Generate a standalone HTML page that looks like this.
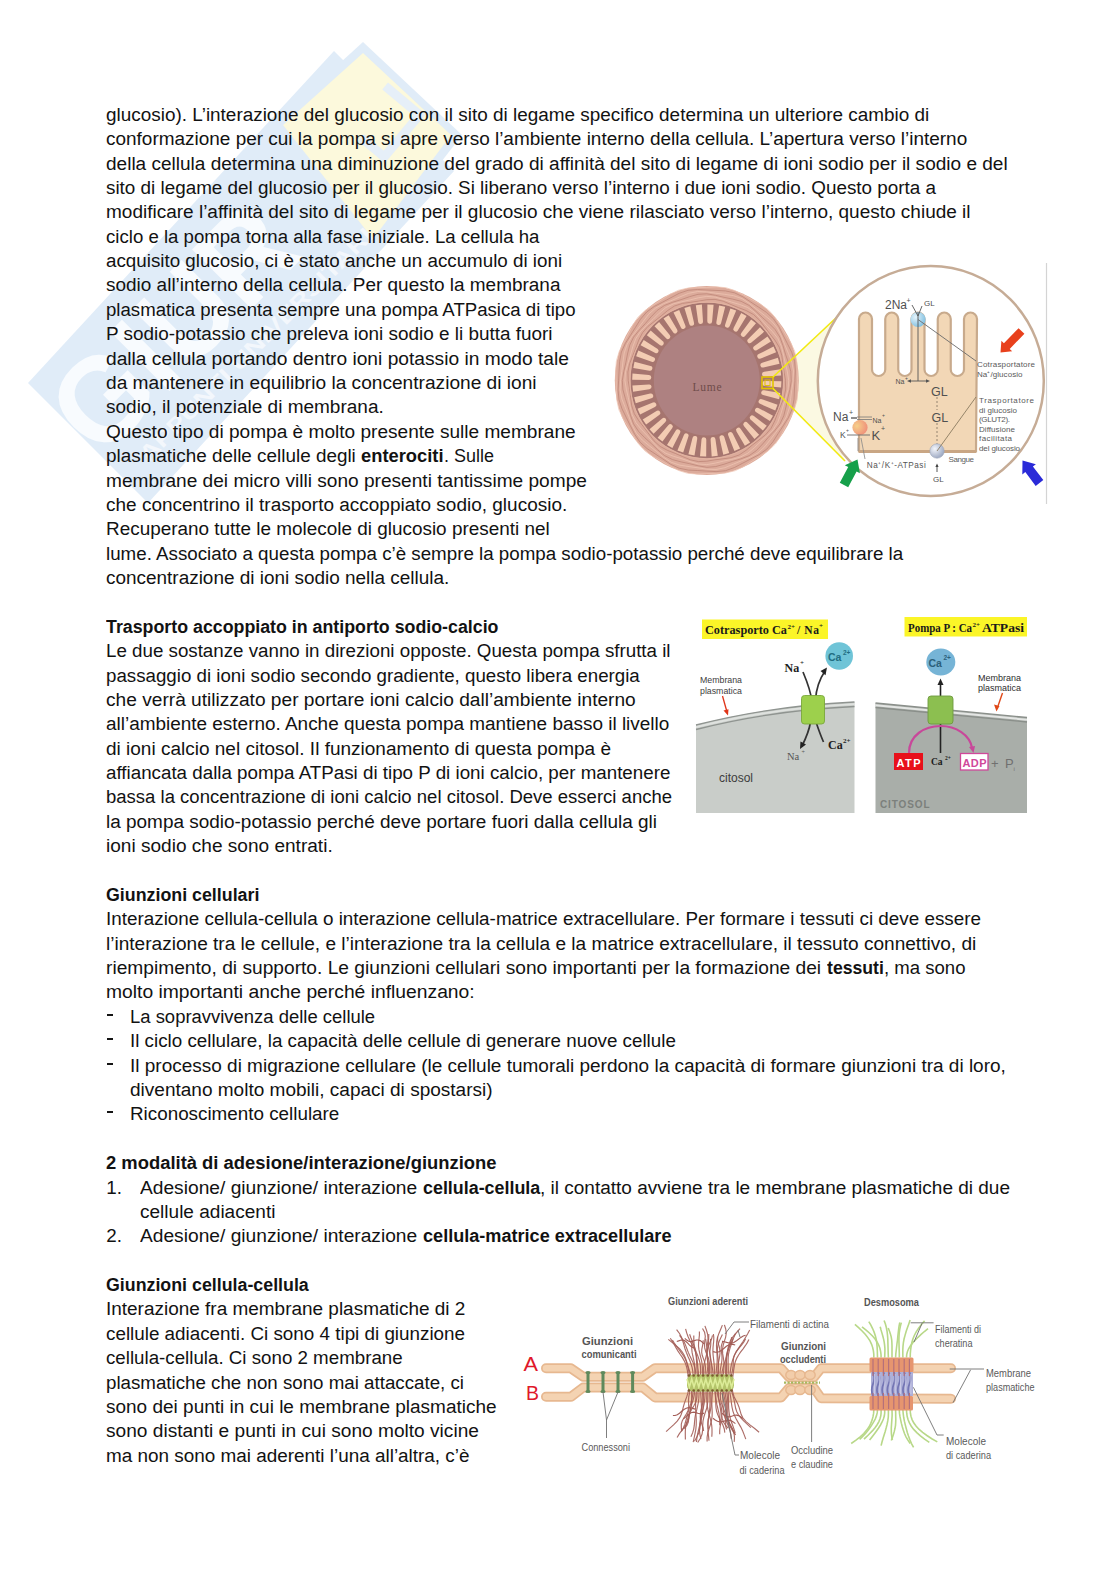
<!DOCTYPE html>
<html><head><meta charset="utf-8"><style>
html,body{margin:0;padding:0;background:#fff;}
body{width:1116px;height:1579px;position:relative;overflow:hidden;}
.t{position:absolute;white-space:pre;font-family:'Liberation Sans', sans-serif;font-size:18.8px;line-height:0;height:0;color:#121212;transform-origin:0 0;}
.dash{position:absolute;left:107px;width:6px;height:2px;background:#151515;}
svg{position:absolute;}
</style></head><body>
<svg style="left:0;top:0;position:absolute" width="580" height="580" viewBox="0 0 580 580">
<polygon points="28,383 334,51 454,171 148,503" fill="#e0ecf8"/>
<polygon points="363,42 462,135 373,250 272,125" fill="#e0ecf8"/>
<polygon points="363,53 451,135 373,239 283,125" fill="#fcf9dc"/>
<path d="M 360 95 L 405 95 L 405 150 L 375 150" fill="none" stroke="#e6eff8" stroke-width="9" transform="rotate(40 385 125)"/>
<g transform="translate(236 282) rotate(-45)" font-family="Liberation Sans, sans-serif">
<text x="-222" y="30" font-size="122" font-weight="bold" fill="#f8fbfe" textLength="290" lengthAdjust="spacingAndGlyphs">GIUR</text>
<text x="-190" y="66" font-size="22" font-weight="bold" fill="#f3f7fc" textLength="320" lengthAdjust="spacingAndGlyphs">APPUNTI UNIVERSITARI</text>
</g>
</svg>

<div class="t" style="left:106.30px;top:114.80px;transform:scaleX(1.0072)">glucosio). L’interazione del glucosio con il sito di legame specifico determina un ulteriore cambio di</div>
<div class="t" style="left:106.30px;top:139.18px;transform:scaleX(1.0097)">conformazione per cui la pompa si apre verso l’ambiente interno della cellula. L’apertura verso l’interno</div>
<div class="t" style="left:106.30px;top:163.56px;transform:scaleX(1.0128)">della cellula determina una diminuzione del grado di affinità del sito di legame di ioni sodio per il sodio e del</div>
<div class="t" style="left:106.30px;top:187.94px;transform:scaleX(1.0038)">sito di legame del glucosio per il glucosio. Si liberano verso l’interno i due ioni sodio. Questo porta a</div>
<div class="t" style="left:106.30px;top:212.32px;transform:scaleX(1.0116)">modificare l’affinità del sito di legame per il glucosio che viene rilasciato verso l’interno, questo chiude il</div>
<div class="t" style="left:106.30px;top:236.70px;transform:scaleX(0.9908)">ciclo e la pompa torna alla fase iniziale. La cellula ha</div>
<div class="t" style="left:106.30px;top:261.08px;transform:scaleX(0.9996)">acquisito glucosio, ci è stato anche un accumulo di ioni</div>
<div class="t" style="left:106.30px;top:285.46px;transform:scaleX(1.0100)">sodio all’interno della cellula. Per questo la membrana</div>
<div class="t" style="left:106.30px;top:309.84px;transform:scaleX(0.9913)">plasmatica presenta sempre una pompa ATPasica di tipo</div>
<div class="t" style="left:106.30px;top:334.22px;transform:scaleX(1.0072)">P sodio-potassio che preleva ioni sodio e li butta fuori</div>
<div class="t" style="left:106.30px;top:358.60px;transform:scaleX(1.0217)">dalla cellula portando dentro ioni potassio in modo tale</div>
<div class="t" style="left:106.30px;top:382.98px;transform:scaleX(1.0183)">da mantenere in equilibrio la concentrazione di ioni</div>
<div class="t" style="left:106.30px;top:407.36px;transform:scaleX(1.0115)">sodio, il potenziale di membrana.</div>
<div class="t" style="left:106.30px;top:431.74px;transform:scaleX(1.0155)">Questo tipo di pompa è molto presente sulle membrane</div>
<div class="t" style="left:106.30px;top:456.12px;transform:scaleX(1.0052)">plasmatiche delle cellule degli </div>
<div class="t" style="left:361.33px;top:456.12px;font-weight:bold;transform:scaleX(0.9756)">enterociti</div>
<div class="t" style="left:443.82px;top:456.12px;transform:scaleX(0.9563)">. Sulle</div>
<div class="t" style="left:106.30px;top:480.50px;transform:scaleX(1.0170)">membrane dei micro villi sono presenti tantissime pompe</div>
<div class="t" style="left:106.30px;top:504.88px;transform:scaleX(1.0110)">che concentrino il trasporto accoppiato sodio, glucosio.</div>
<div class="t" style="left:106.30px;top:529.26px;transform:scaleX(1.0070)">Recuperano tutte le molecole di glucosio presenti nel</div>
<div class="t" style="left:106.30px;top:553.64px;transform:scaleX(0.9981)">lume. Associato a questa pompa c’è sempre la pompa sodio-potassio perché deve equilibrare la</div>
<div class="t" style="left:106.30px;top:578.02px;transform:scaleX(1.0086)">concentrazione di ioni sodio nella cellula.</div>
<div class="t" style="left:106.30px;top:626.78px;font-weight:bold;transform:scaleX(0.9473)">Trasporto accoppiato in antiporto sodio-calcio</div>
<div class="t" style="left:106.30px;top:651.16px;transform:scaleX(0.9976)">Le due sostanze vanno in direzioni opposte. Questa pompa sfrutta il</div>
<div class="t" style="left:106.30px;top:675.54px;transform:scaleX(0.9965)">passaggio di ioni sodio secondo gradiente, questo libera energia</div>
<div class="t" style="left:106.30px;top:699.92px;transform:scaleX(1.0190)">che verrà utilizzato per portare ioni calcio dall’ambiente interno</div>
<div class="t" style="left:106.30px;top:724.30px;transform:scaleX(1.0084)">all’ambiente esterno. Anche questa pompa mantiene basso il livello</div>
<div class="t" style="left:106.30px;top:748.68px;transform:scaleX(1.0119)">di ioni calcio nel citosol. Il funzionamento di questa pompa è</div>
<div class="t" style="left:106.30px;top:773.06px;transform:scaleX(0.9992)">affiancata dalla pompa ATPasi di tipo P di ioni calcio, per mantenere</div>
<div class="t" style="left:106.30px;top:797.44px;transform:scaleX(0.9858)">bassa la concentrazione di ioni calcio nel citosol. Deve esserci anche</div>
<div class="t" style="left:106.30px;top:821.82px;transform:scaleX(1.0092)">la pompa sodio-potassio perché deve portare fuori dalla cellula gli</div>
<div class="t" style="left:106.30px;top:846.20px;transform:scaleX(1.0145)">ioni sodio che sono entrati.</div>
<div class="t" style="left:106.30px;top:894.96px;font-weight:bold;transform:scaleX(0.9481)">Giunzioni cellulari</div>
<div class="t" style="left:106.30px;top:919.34px;transform:scaleX(1.0039)">Interazione cellula-cellula o interazione cellula-matrice extracellulare. Per formare i tessuti ci deve essere</div>
<div class="t" style="left:106.30px;top:943.72px;transform:scaleX(1.0154)">l’interazione tra le cellule, e l’interazione tra la cellula e la matrice extracellulare, il tessuto connettivo, di</div>
<div class="t" style="left:106.30px;top:968.10px;transform:scaleX(1.0209)">riempimento, di supporto. Le giunzioni cellulari sono importanti per la formazione dei </div>
<div class="t" style="left:826.74px;top:968.10px;font-weight:bold;transform:scaleX(0.9396)">tessuti</div>
<div class="t" style="left:883.63px;top:968.10px;transform:scaleX(0.9879)">, ma sono</div>
<div class="t" style="left:106.30px;top:992.48px;transform:scaleX(1.0265)">molto importanti anche perché influenzano:</div>
<div class="dash" style="top:1014px"></div>
<div class="t" style="left:129.60px;top:1016.86px;transform:scaleX(0.9823)">La sopravvivenza delle cellule</div>
<div class="dash" style="top:1038px"></div>
<div class="t" style="left:129.60px;top:1041.24px;transform:scaleX(0.9997)">Il ciclo cellulare, la capacità delle cellule di generare nuove cellule</div>
<div class="dash" style="top:1063px"></div>
<div class="t" style="left:129.60px;top:1065.62px;transform:scaleX(1.0108)">Il processo di migrazione cellulare (le cellule tumorali perdono la capacità di formare giunzioni tra di loro,</div>
<div class="t" style="left:129.60px;top:1090.00px;transform:scaleX(1.0126)">diventano molto mobili, capaci di spostarsi)</div>
<div class="dash" style="top:1111px"></div>
<div class="t" style="left:129.60px;top:1114.38px;transform:scaleX(1.0025)">Riconoscimento cellulare</div>
<div class="t" style="left:106.30px;top:1163.14px;font-weight:bold;transform:scaleX(0.9797)">2 modalità di adesione/interazione/giunzione</div>
<div class="t" style="left:106.30px;top:1187.52px">1.</div>
<div class="t" style="left:140.00px;top:1187.52px;transform:scaleX(1.0211)">Adesione/ giunzione/ interazione </div>
<div class="t" style="left:422.53px;top:1187.52px;font-weight:bold;transform:scaleX(0.9517)">cellula-cellula</div>
<div class="t" style="left:539.77px;top:1187.52px;transform:scaleX(1.0117)">, il contatto avviene tra le membrane plasmatiche di due</div>
<div class="t" style="left:140.00px;top:1211.90px;transform:scaleX(1.0131)">cellule adiacenti</div>
<div class="t" style="left:106.30px;top:1236.28px">2.</div>
<div class="t" style="left:140.00px;top:1236.28px;transform:scaleX(1.0211)">Adesione/ giunzione/ interazione </div>
<div class="t" style="left:422.53px;top:1236.28px;font-weight:bold;transform:scaleX(0.9635)">cellula-matrice extracellulare</div>
<div class="t" style="left:106.30px;top:1285.04px;font-weight:bold;transform:scaleX(0.9476)">Giunzioni cellula-cellula</div>
<div class="t" style="left:106.30px;top:1309.42px;transform:scaleX(1.0095)">Interazione fra membrane plasmatiche di 2</div>
<div class="t" style="left:106.30px;top:1333.80px;transform:scaleX(1.0025)">cellule adiacenti. Ci sono 4 tipi di giunzione</div>
<div class="t" style="left:106.30px;top:1358.18px;transform:scaleX(0.9970)">cellula-cellula. Ci sono 2 membrane</div>
<div class="t" style="left:106.30px;top:1382.56px;transform:scaleX(0.9968)">plasmatiche che non sono mai attaccate, ci</div>
<div class="t" style="left:106.30px;top:1406.94px;transform:scaleX(1.0111)">sono dei punti in cui le membrane plasmatiche</div>
<div class="t" style="left:106.30px;top:1431.32px;transform:scaleX(1.0176)">sono distanti e punti in cui sono molto vicine</div>
<div class="t" style="left:106.30px;top:1455.70px;transform:scaleX(1.0064)">ma non sono mai aderenti l’una all’altra, c’è</div>
<svg style="left:600px;top:255px" width="460" height="255" viewBox="600 255 460 255" font-family="Liberation Sans, sans-serif">
<defs><radialGradient id="gb" cx="0.35" cy="0.35" r="0.7"><stop offset="0" stop-color="#e6f4fb"/><stop offset="1" stop-color="#7fbfe0"/></radialGradient><radialGradient id="gg" cx="0.35" cy="0.35" r="0.7"><stop offset="0" stop-color="#f4f6fb"/><stop offset="1" stop-color="#9aa6c0"/></radialGradient><radialGradient id="go" cx="0.3" cy="0.4" r="0.8"><stop offset="0" stop-color="#f6d08a"/><stop offset="1" stop-color="#ee8878"/></radialGradient></defs>
<polygon points="773,377 838,316 827,340 819,381 827,425 846,462 773,389" fill="#fbf9e2"/>
<ellipse cx="706.8" cy="380.5" rx="92" ry="94.5" fill="#dcab9b"/>
<polyline points="785.3,380.5 785.7,389.0 784.1,397.4 780.9,405.2 777.7,412.9 774.8,420.8 771.0,428.4 765.5,434.8 759.0,440.0 752.4,445.0 746.1,450.3 739.1,455.0 731.2,457.7 723.0,458.8 714.9,459.8 706.8,461.2 698.5,461.6 690.4,459.8 682.7,456.6 675.2,453.4 667.5,450.4 660.1,446.4 654.0,440.8 648.9,434.0 644.0,427.4 638.8,420.8 634.3,413.7 631.7,405.6 630.6,397.1 629.6,388.8 628.2,380.5 627.9,372.0 629.6,363.6 632.7,355.8 635.8,348.1 638.7,340.1 642.6,332.6 648.1,326.3 654.7,321.1 661.1,316.0 667.5,310.6 674.5,306.0 682.4,303.4 690.6,302.3 698.7,301.1 706.8,299.7 715.1,299.4 723.2,301.2 730.9,304.5 738.4,307.6 746.1,310.5 753.5,314.5 759.6,320.3 764.7,327.0 769.7,333.6 774.9,340.1 779.3,347.3 781.8,355.5 782.9,363.9 784.1,372.2 785.5,380.5" fill="none" stroke="#bb8273" stroke-width="0.9" opacity="0.8"/>
<polyline points="788.7,380.5 788.1,389.3 785.8,397.7 783.1,406.0 780.7,414.3 777.7,422.5 773.0,429.9 766.8,436.0 760.5,441.7 754.4,447.7 747.7,453.3 740.1,457.2 731.7,459.4 723.5,461.1 715.3,463.1 706.8,464.6 698.3,464.0 690.0,461.6 682.0,458.8 673.9,456.4 665.9,453.3 658.7,448.4 652.8,442.1 647.2,435.6 641.3,429.4 635.9,422.6 632.1,414.6 630.1,406.1 628.3,397.6 626.3,389.2 624.9,380.5 625.5,371.7 627.9,363.3 630.5,355.0 632.8,346.7 635.9,338.4 640.7,331.2 646.8,325.1 653.1,319.3 659.2,313.2 665.8,307.6 673.6,303.8 681.9,301.7 690.1,299.9 698.3,297.8 706.8,296.4 715.3,297.1 723.6,299.5 731.6,302.1 739.8,304.5 747.8,307.6 754.8,312.6 760.8,319.0 766.4,325.4 772.4,331.6 777.8,338.4 781.4,346.4 783.5,354.9 785.3,363.4 787.4,371.8 788.7,380.5" fill="none" stroke="#f0c6b4" stroke-width="0.9" opacity="0.8"/>
<polyline points="791.3,380.5 789.9,389.5 787.8,398.2 786.0,406.9 783.8,415.7 780.0,423.9 774.4,431.0 768.3,437.4 762.5,444.1 756.4,450.6 749.1,455.7 740.8,458.9 732.4,461.4 724.1,464.2 715.6,466.6 706.8,467.3 698.1,465.8 689.6,463.7 681.1,461.9 672.5,459.6 664.6,455.6 657.7,449.9 651.4,443.7 644.9,437.8 638.6,431.4 633.6,423.9 630.5,415.4 628.0,406.8 625.3,398.3 622.9,389.6 622.3,380.5 623.8,371.5 625.8,362.8 627.5,354.0 629.7,345.3 633.6,337.1 639.3,330.1 645.3,323.6 651.0,316.9 657.2,310.4 664.6,305.4 672.8,302.2 681.2,299.6 689.5,296.7 698.0,294.3 706.8,293.8 715.5,295.3 724.0,297.3 732.6,299.1 741.1,301.3 749.0,305.4 755.8,311.2 762.2,317.3 768.8,323.2 775.1,329.5 779.9,337.1 783.0,345.6 785.5,354.2 788.4,362.7 790.8,371.4 791.2,380.5" fill="none" stroke="#bb8273" stroke-width="0.9" opacity="0.8"/>
<polyline points="793.2,380.5 791.8,389.7 790.6,398.8 789.3,408.0 786.4,416.9 781.6,424.9 776.0,432.1 770.5,439.4 764.8,446.7 758.0,452.9 750.0,457.3 741.6,460.7 733.3,464.2 724.8,467.7 715.9,469.5 706.8,469.2 697.9,467.8 689.0,466.6 680.0,465.2 671.3,462.3 663.6,457.3 656.6,451.5 649.4,445.9 642.3,440.1 636.3,433.1 632.0,424.8 628.7,416.2 625.3,407.7 621.9,399.0 620.1,389.9 620.5,380.5 621.8,371.3 622.9,362.2 624.2,353.0 627.2,344.1 632.0,336.2 637.7,328.9 643.1,321.6 648.7,314.2 655.6,308.1 663.6,303.7 672.0,300.3 680.3,296.7 688.7,293.3 697.7,291.5 706.8,291.9 715.7,293.2 724.6,294.3 733.6,295.7 742.2,298.7 749.9,303.8 757.0,309.5 764.2,315.0 771.3,320.8 777.3,327.9 781.5,336.2 784.8,344.8 788.4,353.3 791.8,362.0 793.5,371.1 793.0,380.5" fill="none" stroke="#f0c6b4" stroke-width="0.9" opacity="0.8"/>
<polyline points="795.0,380.5 794.4,390.0 794.0,399.5 792.2,409.0 788.3,417.8 783.2,425.8 778.1,433.7 773.0,441.7 766.9,449.0 759.2,454.6 750.9,458.9 742.7,463.2 734.3,467.6 725.5,470.7 716.1,471.6 706.8,471.1 697.6,470.5 688.3,470.1 679.1,468.2 670.5,464.2 662.7,458.9 655.0,453.8 647.1,448.6 640.1,442.2 634.7,434.3 630.4,425.8 626.2,417.3 622.0,408.8 619.0,399.7 618.1,390.1 618.6,380.5 619.1,371.0 619.6,361.5 621.4,352.0 625.4,343.3 630.5,335.2 635.5,327.3 640.5,319.2 646.7,312.0 654.4,306.4 662.7,302.1 670.9,297.7 679.2,293.3 688.1,290.3 697.5,289.5 706.8,290.0 716.0,290.4 725.4,290.9 734.5,292.8 743.0,296.9 750.9,302.1 758.7,307.2 766.5,312.4 773.5,318.8 778.9,326.7 783.1,335.2 787.4,343.6 791.7,352.2 794.6,361.3 795.4,370.9 794.9,380.5" fill="none" stroke="#bb8273" stroke-width="0.9" opacity="0.8"/>
<polyline points="797.4,380.5 797.8,390.3 797.1,400.2 794.3,409.7 789.9,418.5 785.3,427.0 780.8,435.7 775.4,444.0 768.4,450.7 760.3,456.1 752.1,461.1 744.0,466.4 735.3,470.7 725.9,472.9 716.3,473.4 706.8,473.6 697.2,474.0 687.6,473.3 678.4,470.4 669.8,465.8 661.5,461.1 653.0,456.6 645.0,451.0 638.4,443.7 633.2,435.4 628.3,427.1 623.2,418.7 618.9,409.8 616.8,400.1 616.4,390.3 616.1,380.5 615.7,370.7 616.4,360.8 619.3,351.3 623.8,342.5 628.3,333.9 632.7,325.2 638.1,317.0 645.3,310.3 653.4,305.0 661.5,299.8 669.5,294.6 678.3,290.3 687.7,288.1 697.3,287.7 706.8,287.4 716.4,286.9 726.0,287.7 735.2,290.7 743.8,295.2 752.1,299.8 760.7,304.4 768.6,310.0 775.1,317.3 780.3,325.6 785.3,333.9 790.5,342.2 794.7,351.2 796.7,360.9 797.2,370.7 797.5,380.5" fill="none" stroke="#f0c6b4" stroke-width="0.9" opacity="0.8"/>
<ellipse cx="706.8" cy="380.5" rx="76.5" ry="78" fill="#a6756f"/>
<ellipse cx="706.8" cy="380.5" rx="53" ry="55" fill="#ae8181"/>
<path d="M 781.1 387.4 L 764.6 385.9 A 2.4 2.4 0 0 1 764.8 381.1 L 781.4 381.2 Z" fill="#f3ccb3"/>
<path d="M 779.1 399.2 L 763.1 395.0 A 2.4 2.4 0 0 1 764.1 390.3 L 780.3 393.1 Z" fill="#f3ccb3"/>
<path d="M 775.3 410.5 L 760.1 403.8 A 2.4 2.4 0 0 1 761.9 399.3 L 777.5 404.7 Z" fill="#f3ccb3"/>
<path d="M 769.9 421.0 L 755.9 412.0 A 2.4 2.4 0 0 1 758.3 407.9 L 773.0 415.7 Z" fill="#f3ccb3"/>
<path d="M 762.9 430.6 L 750.5 419.5 A 2.4 2.4 0 0 1 753.5 415.8 L 766.8 425.8 Z" fill="#f3ccb3"/>
<path d="M 754.5 438.9 L 743.9 426.0 A 2.4 2.4 0 0 1 747.5 422.8 L 759.1 434.8 Z" fill="#f3ccb3"/>
<path d="M 744.9 445.8 L 736.5 431.4 A 2.4 2.4 0 0 1 740.5 428.7 L 750.1 442.4 Z" fill="#f3ccb3"/>
<path d="M 734.4 451.1 L 728.3 435.5 A 2.4 2.4 0 0 1 732.7 433.5 L 740.1 448.6 Z" fill="#f3ccb3"/>
<path d="M 723.3 454.7 L 719.6 438.2 A 2.4 2.4 0 0 1 724.3 437.0 L 729.2 453.0 Z" fill="#f3ccb3"/>
<path d="M 711.7 456.4 L 710.6 439.6 A 2.4 2.4 0 0 1 715.4 439.1 L 717.8 455.7 Z" fill="#f3ccb3"/>
<path d="M 700.0 456.2 L 701.5 439.5 A 2.4 2.4 0 0 1 706.3 439.7 L 706.2 456.5 Z" fill="#f3ccb3"/>
<path d="M 688.4 454.2 L 692.5 437.9 A 2.4 2.4 0 0 1 697.2 438.9 L 694.5 455.5 Z" fill="#f3ccb3"/>
<path d="M 677.4 450.4 L 683.9 434.9 A 2.4 2.4 0 0 1 688.4 436.6 L 683.2 452.6 Z" fill="#f3ccb3"/>
<path d="M 667.0 444.9 L 675.8 430.6 A 2.4 2.4 0 0 1 680.0 433.0 L 672.4 447.9 Z" fill="#f3ccb3"/>
<path d="M 657.6 437.7 L 668.5 425.1 A 2.4 2.4 0 0 1 672.3 428.1 L 662.5 441.6 Z" fill="#f3ccb3"/>
<path d="M 649.5 429.2 L 662.2 418.4 A 2.4 2.4 0 0 1 665.4 422.0 L 653.6 433.8 Z" fill="#f3ccb3"/>
<path d="M 642.7 419.4 L 656.9 410.8 A 2.4 2.4 0 0 1 659.5 414.8 L 646.1 424.6 Z" fill="#f3ccb3"/>
<path d="M 637.5 408.7 L 652.9 402.5 A 2.4 2.4 0 0 1 654.9 406.9 L 640.1 414.4 Z" fill="#f3ccb3"/>
<path d="M 634.1 397.3 L 650.2 393.6 A 2.4 2.4 0 0 1 651.4 398.3 L 635.7 403.3 Z" fill="#f3ccb3"/>
<path d="M 632.4 385.5 L 648.9 384.4 A 2.4 2.4 0 0 1 649.4 389.2 L 633.1 391.7 Z" fill="#f3ccb3"/>
<path d="M 632.5 373.6 L 649.0 375.1 A 2.4 2.4 0 0 1 648.8 379.9 L 632.2 379.8 Z" fill="#f3ccb3"/>
<path d="M 634.5 361.8 L 650.5 366.0 A 2.4 2.4 0 0 1 649.5 370.7 L 633.3 367.9 Z" fill="#f3ccb3"/>
<path d="M 638.3 350.5 L 653.5 357.2 A 2.4 2.4 0 0 1 651.7 361.7 L 636.1 356.3 Z" fill="#f3ccb3"/>
<path d="M 643.7 340.0 L 657.7 349.0 A 2.4 2.4 0 0 1 655.3 353.1 L 640.6 345.3 Z" fill="#f3ccb3"/>
<path d="M 650.7 330.4 L 663.1 341.5 A 2.4 2.4 0 0 1 660.1 345.2 L 646.8 335.2 Z" fill="#f3ccb3"/>
<path d="M 659.1 322.1 L 669.7 335.0 A 2.4 2.4 0 0 1 666.1 338.2 L 654.5 326.2 Z" fill="#f3ccb3"/>
<path d="M 668.7 315.2 L 677.1 329.6 A 2.4 2.4 0 0 1 673.1 332.3 L 663.5 318.6 Z" fill="#f3ccb3"/>
<path d="M 679.2 309.9 L 685.3 325.5 A 2.4 2.4 0 0 1 680.9 327.5 L 673.5 312.4 Z" fill="#f3ccb3"/>
<path d="M 690.3 306.3 L 694.0 322.8 A 2.4 2.4 0 0 1 689.3 324.0 L 684.4 308.0 Z" fill="#f3ccb3"/>
<path d="M 701.9 304.6 L 703.0 321.4 A 2.4 2.4 0 0 1 698.2 321.9 L 695.8 305.3 Z" fill="#f3ccb3"/>
<path d="M 713.6 304.8 L 712.1 321.5 A 2.4 2.4 0 0 1 707.3 321.3 L 707.4 304.5 Z" fill="#f3ccb3"/>
<path d="M 725.2 306.8 L 721.1 323.1 A 2.4 2.4 0 0 1 716.4 322.1 L 719.1 305.5 Z" fill="#f3ccb3"/>
<path d="M 736.2 310.6 L 729.7 326.1 A 2.4 2.4 0 0 1 725.2 324.4 L 730.4 308.4 Z" fill="#f3ccb3"/>
<path d="M 746.6 316.1 L 737.8 330.4 A 2.4 2.4 0 0 1 733.6 328.0 L 741.2 313.1 Z" fill="#f3ccb3"/>
<path d="M 756.0 323.3 L 745.1 335.9 A 2.4 2.4 0 0 1 741.3 332.9 L 751.1 319.4 Z" fill="#f3ccb3"/>
<path d="M 764.1 331.8 L 751.4 342.6 A 2.4 2.4 0 0 1 748.2 339.0 L 760.0 327.2 Z" fill="#f3ccb3"/>
<path d="M 770.9 341.6 L 756.7 350.2 A 2.4 2.4 0 0 1 754.1 346.2 L 767.5 336.4 Z" fill="#f3ccb3"/>
<path d="M 776.1 352.3 L 760.7 358.5 A 2.4 2.4 0 0 1 758.7 354.1 L 773.5 346.6 Z" fill="#f3ccb3"/>
<path d="M 779.5 363.7 L 763.4 367.4 A 2.4 2.4 0 0 1 762.2 362.7 L 777.9 357.7 Z" fill="#f3ccb3"/>
<path d="M 781.2 375.5 L 764.7 376.6 A 2.4 2.4 0 0 1 764.2 371.8 L 780.5 369.3 Z" fill="#f3ccb3"/>
<ellipse cx="706.8" cy="380.5" rx="76.8" ry="78.3" fill="none" stroke="#e2b2a0" stroke-width="1.2"/>
<text x="692.5" y="391" font-family="Liberation Serif, serif" font-size="11.5" fill="#6e4c4a" textLength="29">Lume</text>
<rect x="762" y="377" width="11" height="11.5" fill="none" stroke="#e2c400" stroke-width="1.6"/>
<rect x="765" y="380" width="5" height="5.5" fill="none" stroke="#e2c400" stroke-width="1"/>
<line x1="773" y1="377" x2="838" y2="316" stroke="#f2ea10" stroke-width="1.6"/>
<line x1="773" y1="388.5" x2="845" y2="461" stroke="#f2ea10" stroke-width="1.6"/>
<ellipse cx="930.8" cy="381" rx="113" ry="115" fill="#fff" stroke="#c6ac96" stroke-width="2.5"/>
<line x1="1046.5" y1="263" x2="1046.5" y2="504" stroke="#d4d4d4" stroke-width="1.2"/>
<path d="M 859 451.5 L 859 319.0 A 6.5 6.5 0 0 1 872.0 319.0 L 872.0 369.375 A 6.625 6.625 0 0 0 885.25 369.375 L 885.25 319.0 A 6.5 6.5 0 0 1 898.25 319.0 L 898.25 369.375 A 6.625 6.625 0 0 0 911.5 369.375 L 911.5 319.0 A 6.5 6.5 0 0 1 924.5 319.0 L 924.5 369.375 A 6.625 6.625 0 0 0 937.75 369.375 L 937.75 319.0 A 6.5 6.5 0 0 1 950.75 319.0 L 950.75 369.375 A 6.625 6.625 0 0 0 964.0 369.375 L 964.0 319.0 A 6.5 6.5 0 0 1 977.0 319.0 L 976 451.5 Z" fill="#f2d7b6" stroke="#c8aa8c" stroke-width="2.2"/>
<line x1="859" y1="451.5" x2="976" y2="451.5" stroke="#c9a684" stroke-width="2.8"/>
<circle cx="918" cy="319.5" r="7.6" fill="url(#gb)"/>
<line x1="918" y1="312" x2="918" y2="381" stroke="#555" stroke-width="0.9"/>
<path d="M 912 305 L 918 316 L 922 306" fill="none" stroke="#555" stroke-width="0.9"/>
<line x1="918" y1="319.5" x2="976" y2="361" stroke="#6a6a6a" stroke-width="0.9"/>
<path d="M 918 381 L 910 381 M 918 381 L 927 381" stroke="#555" stroke-width="0.9"/>
<path d="M 907 381 l 4 -1.8 v 3.6 z M 930 381 l -4 -1.8 v 3.6 z" fill="#555"/>
<text x="885" y="309" font-size="12" fill="#505050">2Na</text><text x="906.5" y="303" font-size="7" fill="#505050">+</text>
<text x="924" y="306" font-size="8" fill="#505050">GL</text>
<text x="895.5" y="384" font-size="7" fill="#505050">Na</text><text x="905" y="380" font-size="5" fill="#505050">+</text>
<text x="931" y="395.5" font-size="12.5" fill="#505050">GL</text>
<text x="931.5" y="421.5" font-size="12.5" fill="#505050">GL</text>
<line x1="937" y1="397" x2="937" y2="410" stroke="#8a7a6a" stroke-width="0.9" stroke-dasharray="2,2"/>
<line x1="937" y1="423" x2="937" y2="445" stroke="#8a7a6a" stroke-width="0.9" stroke-dasharray="2,2"/>
<circle cx="937" cy="451" r="7.2" fill="url(#gg)" stroke="#a0a8b8" stroke-width="0.6"/>
<line x1="937" y1="451" x2="976" y2="397" stroke="#8a7a60" stroke-width="0.9"/>
<line x1="937" y1="465" x2="937" y2="472" stroke="#444" stroke-width="0.9"/><path d="M 937 463.5 l -1.6 3.5 h 3.2 z" fill="#444"/>
<text x="933" y="482" font-size="8" fill="#505050">GL</text>
<text x="948.5" y="462" font-size="8" fill="#606060" textLength="25.5">Sangue</text>
<circle cx="860" cy="427.5" r="7.6" fill="url(#go)"/>
<text x="833" y="421" font-size="12" fill="#505050">Na</text><text x="849" y="415" font-size="7" fill="#505050">+</text>
<line x1="851" y1="418" x2="857" y2="418" stroke="#444" stroke-width="1.2"/>
<line x1="857" y1="417" x2="872" y2="417" stroke="#777" stroke-width="0.8"/><line x1="857" y1="419.5" x2="872" y2="419.5" stroke="#777" stroke-width="0.8"/>
<text x="872.5" y="422.5" font-size="7" fill="#505050">Na</text><text x="882" y="417" font-size="5" fill="#505050">+</text>
<text x="840" y="437.5" font-size="8.5" fill="#505050">K</text><text x="846" y="432" font-size="5" fill="#505050">+</text>
<line x1="847" y1="435" x2="870" y2="435" stroke="#666" stroke-width="0.9"/>
<text x="871.5" y="439.5" font-size="13" fill="#505050">K</text><text x="881" y="431" font-size="7" fill="#505050">+</text>
<path d="M 858 438 L 858 451 M 861 438 L 865 459" stroke="#888" stroke-width="0.8" fill="none"/>
<text x="866.8" y="467.5" font-size="8.2" fill="#555" textLength="59">Na⁺/K⁺-ATPasi</text>
<text x="977" y="367" font-size="8" fill="#5a5a5a" textLength="58">Cotrasportatore</text>
<text x="977" y="376.5" font-size="8" fill="#5a5a5a" textLength="45.5">Na⁺/glucosio</text>
<text x="979" y="403.0" font-size="8" fill="#5a5a5a" textLength="55">Trasportatore</text>
<text x="979" y="412.6" font-size="8" fill="#5a5a5a" textLength="38">di glucosio</text>
<text x="979" y="422.1" font-size="8" fill="#5a5a5a" textLength="31">(GLUT2).</text>
<text x="979" y="431.6" font-size="8" fill="#5a5a5a" textLength="36">Diffusione</text>
<text x="979" y="441.2" font-size="8" fill="#5a5a5a" textLength="33">facilitata</text>
<text x="979" y="450.8" font-size="8" fill="#5a5a5a" textLength="41">del glucosio</text>
<polygon points="1018.6,328.2 1003.9,343.3 1001.4,340.8 1000.5,352.5 1012.2,351.3 1009.7,348.9 1024.4,333.8" fill="#e8401c"/>
<polygon points="848.2,487.2 856.6,471.4 859.9,473.2 857.5,459.5 844.8,465.2 848.2,467.0 839.8,482.8" fill="#16a04a"/>
<polygon points="1043.3,480.1 1032.9,466.4 1035.9,464.2 1022.5,460.5 1022.3,474.4 1025.3,472.1 1035.7,485.9" fill="#2a2ad8"/>
</svg>
<svg style="left:690px;top:605px" width="350" height="215" viewBox="690 605 350 215" font-family="Liberation Sans, sans-serif">
<rect x="702" y="619.5" width="126" height="19.5" fill="#fbf528"/>
<text x="705" y="634" font-family="Liberation Serif, serif" font-weight="bold" font-size="11.5" fill="#1a1a1a" textLength="82" lengthAdjust="spacingAndGlyphs">Cotrasporto Ca</text>
<text x="787.5" y="628.5" font-family="Liberation Serif, serif" font-weight="bold" font-size="7" fill="#1a1a1a">2+</text>
<text x="797" y="634" font-family="Liberation Serif, serif" font-weight="bold" font-size="11.5" fill="#1a1a1a" textLength="22">/ Na</text>
<text x="819" y="628" font-family="Liberation Serif, serif" font-weight="bold" font-size="7" fill="#1a1a1a">+</text>
<path d="M 696 725 Q 770 706 854.5 702 L 854.5 813 L 696 813 Z" fill="#c9cdc9"/>
<path d="M 696 725 Q 770 706 854.5 702" fill="none" stroke="#8f9490" stroke-width="1.3"/>
<path d="M 696 729.5 Q 770 710.5 854.5 706.5" fill="none" stroke="#8f9490" stroke-width="1.3"/>
<path d="M 696 727.2 Q 770 708.2 854.5 704.2" fill="none" stroke="#dfe2df" stroke-width="1.8"/>
<path d="M 803 672 C 808 684 811 692 811.5 700 M 810.5 722 C 809 732 805 740 802 746" fill="none" stroke="#333" stroke-width="1.7"/>
<path d="M 800 749 l 0.5 -7.5 l 5.5 3 z" fill="#222"/>
<path d="M 823.5 742 C 820 734 818 728 816 722 M 815.5 700 C 816 690 819 680 825 671" fill="none" stroke="#333" stroke-width="1.7"/>
<path d="M 827 667.5 l -6.5 3.5 l 5 4.2 z" fill="#222"/>
<rect x="801.5" y="695.5" width="23" height="28.5" rx="3" fill="#9dd04c" stroke="#7ba83a" stroke-width="0.9"/>
<circle cx="839.2" cy="656" r="13.8" fill="#6fc4d7"/>
<text x="828" y="660.5" font-size="10.5" font-weight="bold" fill="#226e82">Ca</text><text x="843" y="654.5" font-size="6.5" font-weight="bold" fill="#226e82">2+</text>
<text x="784.5" y="671.5" font-family="Liberation Serif, serif" font-weight="bold" font-size="12" fill="#1e1e1e">Na</text><text x="800" y="665" font-family="Liberation Serif, serif" font-weight="bold" font-size="7" fill="#1e1e1e">+</text>
<text x="700" y="683" font-size="9" fill="#404040" textLength="42" lengthAdjust="spacingAndGlyphs">Membrana</text>
<text x="700" y="693.5" font-size="9" fill="#404040" textLength="42" lengthAdjust="spacingAndGlyphs">plasmatica</text>
<path d="M 722.5 696 L 727 712" stroke="#e03418" stroke-width="1.3"/><path d="M 728 715.5 l -4.5 -5 l 5 -1.2 z" fill="#e03418"/>
<text x="828" y="749" font-family="Liberation Serif, serif" font-weight="bold" font-size="12" fill="#1e1e1e">Ca</text><text x="843" y="742.5" font-family="Liberation Serif, serif" font-weight="bold" font-size="7" fill="#1e1e1e">2+</text>
<text x="787" y="760" font-family="Liberation Serif, serif" font-size="10.5" fill="#555">Na</text><text x="801.5" y="754" font-family="Liberation Serif, serif" font-size="6" fill="#555">+</text>
<text x="719" y="782" font-size="12" fill="#3c3c3c" textLength="34">citosol</text>
<rect x="904.5" y="617" width="122.5" height="19.5" fill="#fbf528"/>
<text x="908" y="632" font-family="Liberation Serif, serif" font-weight="bold" font-size="11.5" fill="#1a1a1a" textLength="64" lengthAdjust="spacingAndGlyphs">Pompa P : Ca</text>
<text x="972.5" y="626.5" font-family="Liberation Serif, serif" font-weight="bold" font-size="7" fill="#1a1a1a">2+</text>
<text x="982" y="632" font-family="Liberation Serif, serif" font-weight="bold" font-size="11.5" fill="#1a1a1a" textLength="42" lengthAdjust="spacingAndGlyphs">ATPasi</text>
<path d="M 875.5 703 L 1027 717.5 L 1027 813 L 875.5 813 Z" fill="#a9aea9"/>
<path d="M 875.5 703 L 1027 717.5" stroke="#8a8f8a" stroke-width="1.3"/>
<path d="M 875.5 707.5 L 1027 722" stroke="#8a8f8a" stroke-width="1.3"/>
<path d="M 875.5 705.2 L 1027 719.7" stroke="#e4e6e4" stroke-width="2"/>
<line x1="940.5" y1="722" x2="940.5" y2="753" stroke="#222" stroke-width="1.6"/>
<line x1="940.5" y1="697" x2="940.5" y2="684" stroke="#222" stroke-width="1.6"/><path d="M 940.5 678.5 l -3 6.5 h 6 z" fill="#222"/>
<path d="M 909 753 C 909 735 925 726 940.5 726 C 956 726 970 735 972 748" fill="none" stroke="#c8489a" stroke-width="2.2"/>
<path d="M 973.5 753 l -4.5 -6 l 6 -1 z" fill="#c8489a"/>
<rect x="928" y="696" width="25" height="28" rx="3" fill="#8cbf50" stroke="#6e9a3e" stroke-width="0.9"/>
<ellipse cx="940.8" cy="662" rx="14.5" ry="13.5" fill="#76b4d6"/>
<text x="928.5" y="666.5" font-size="10.5" font-weight="bold" fill="#2c5f7a">Ca</text><text x="943.5" y="660" font-size="6.5" font-weight="bold" fill="#2c5f7a">2+</text>
<text x="978" y="680.5" font-size="9" fill="#2e2e2e" textLength="43" lengthAdjust="spacingAndGlyphs">Membrana</text>
<text x="978" y="691" font-size="9" fill="#2e2e2e" textLength="43" lengthAdjust="spacingAndGlyphs">plasmatica</text>
<path d="M 1002.5 693 L 998 706" stroke="#e04818" stroke-width="1.4"/><path d="M 996.5 711.5 l -2.5 -7 l 5.5 1.6 z" fill="#e04818"/>
<rect x="894" y="753" width="29" height="17" fill="#e8101a"/>
<text x="896.5" y="766.5" font-size="11" font-weight="bold" fill="#fff" textLength="24">ATP</text>
<text x="931" y="765" font-family="Liberation Serif, serif" font-weight="bold" font-size="9.5" fill="#1a1a1a">Ca</text><text x="945" y="759.5" font-family="Liberation Serif, serif" font-weight="bold" font-size="5.5" fill="#1a1a1a">2+</text>
<rect x="960.5" y="753.5" width="27.5" height="16.5" fill="#fff" stroke="#d0489a" stroke-width="1.3"/>
<text x="962.5" y="766.5" font-size="11" font-weight="bold" fill="#d0489a" textLength="24">ADP</text>
<text x="991" y="767.5" font-size="13" fill="#707070">+</text><text x="1005" y="768" font-size="13" fill="#707070">P</text><text x="1013.5" y="770.5" font-size="6" fill="#707070">i</text>
<text x="880" y="807.5" font-size="10" font-weight="bold" fill="#7c807c" textLength="49.5">CITOSOL</text>
</svg>
<svg style="left:510px;top:1285px" width="540" height="200" viewBox="510 1285 540 200" font-family="Liberation Sans, sans-serif">
<path d="M 546 1368.3 L 571 1368.3 L 583 1376.7 L 643 1376.7 L 655 1368.2 L 781 1368.2 L 789 1377.2 L 814 1377.2 L 821 1368.3 L 951 1368.3" fill="none" stroke="#e7b890" stroke-width="10" stroke-linecap="round" stroke-linejoin="round"/>
<path d="M 546 1368.3 L 571 1368.3 L 583 1376.7 L 643 1376.7 L 655 1368.2 L 781 1368.2 L 789 1377.2 L 814 1377.2 L 821 1368.3 L 951 1368.3" fill="none" stroke="#f4d3b2" stroke-width="6.5" stroke-linecap="round" stroke-linejoin="round"/>
<path d="M 546 1396.8 L 571 1396.8 L 583 1387.6 L 643 1387.6 L 655 1397.4 L 781 1397.4 L 789 1388 L 814 1388 L 821 1398.2 L 951 1398.8" fill="none" stroke="#e7b890" stroke-width="10" stroke-linecap="round" stroke-linejoin="round"/>
<path d="M 546 1396.8 L 571 1396.8 L 583 1387.6 L 643 1387.6 L 655 1397.4 L 781 1397.4 L 789 1388 L 814 1388 L 821 1398.2 L 951 1398.8" fill="none" stroke="#f4d3b2" stroke-width="6.5" stroke-linecap="round" stroke-linejoin="round"/>
<polyline points="688.8,1383.0 688.6,1379.8 688.2,1376.6 687.8,1373.4 687.3,1370.2 686.6,1367.0 685.6,1363.8 684.1,1360.6 682.3,1357.4 680.1,1354.3 678.0,1351.1 676.1,1347.9 674.3,1344.7 672.4,1341.5 670.3,1338.3" fill="none" stroke="#a35d57" stroke-width="1.15" opacity="0.9"/>
<polyline points="690.2,1383.0 690.1,1379.9 689.7,1376.9 689.2,1373.8 688.7,1370.7 688.1,1367.6 687.4,1364.6 686.4,1361.5 685.0,1358.4 683.2,1355.3 681.0,1352.3 678.7,1349.2 676.4,1346.1 674.3,1343.0 672.4,1340.0" fill="none" stroke="#a35d57" stroke-width="1.15" opacity="0.9"/>
<polyline points="691.8,1383.0 691.6,1379.9 691.1,1376.8 690.3,1373.7 689.4,1370.5 688.4,1367.4 687.4,1364.3 686.5,1361.2 685.5,1358.1 684.1,1355.0 682.1,1351.8 679.5,1348.7 676.1,1345.6 672.3,1342.5 668.3,1339.4" fill="none" stroke="#a35d57" stroke-width="1.15" opacity="0.9"/>
<polyline points="693.2,1383.0 693.2,1379.2 693.1,1375.4 692.8,1371.6 692.2,1367.8 691.1,1364.0 689.7,1360.2 688.0,1356.4 686.4,1352.5 685.0,1348.7 683.9,1344.9 682.8,1341.1 681.5,1337.3 679.5,1333.5 676.6,1329.7" fill="none" stroke="#a35d57" stroke-width="1.15" opacity="0.9"/>
<polyline points="694.8,1383.0 694.7,1379.9 694.7,1376.9 694.8,1373.8 694.9,1370.8 694.8,1367.7 694.6,1364.6 694.1,1361.6 693.4,1358.5 692.7,1355.5 692.1,1352.4 691.8,1349.3 691.7,1346.3 691.9,1343.2 692.2,1340.2" fill="none" stroke="#a35d57" stroke-width="1.15" opacity="0.9"/>
<polyline points="696.2,1383.0 696.1,1379.6 695.9,1376.2 695.7,1372.8 695.2,1369.4 694.3,1366.0 693.1,1362.6 691.5,1359.2 689.8,1355.8 688.3,1352.4 687.0,1349.0 685.7,1345.6 684.3,1342.2 682.2,1338.8 679.5,1335.4" fill="none" stroke="#a35d57" stroke-width="1.15" opacity="0.9"/>
<polyline points="697.8,1383.0 697.7,1379.5 697.5,1376.0 697.2,1372.6 697.0,1369.1 696.8,1365.6 696.6,1362.1 696.4,1358.6 696.0,1355.2 695.5,1351.7 694.7,1348.2 693.6,1344.7 692.3,1341.3 690.9,1337.8 689.6,1334.3" fill="none" stroke="#a35d57" stroke-width="1.15" opacity="0.9"/>
<polyline points="699.2,1383.0 699.2,1379.1 698.8,1375.3 698.3,1371.4 697.8,1367.5 697.5,1363.6 697.1,1359.8 696.5,1355.9 695.5,1352.0 693.9,1348.1 691.9,1344.3 689.8,1340.4 688.0,1336.5 686.6,1332.6 685.6,1328.8" fill="none" stroke="#a35d57" stroke-width="1.15" opacity="0.9"/>
<polyline points="700.8,1383.0 700.6,1379.6 700.5,1376.2 700.6,1372.8 700.6,1369.5 700.4,1366.1 699.9,1362.7 699.0,1359.3 697.8,1355.9 696.4,1352.5 695.2,1349.1 694.3,1345.8 693.9,1342.4 693.8,1339.0 693.8,1335.6" fill="none" stroke="#a35d57" stroke-width="1.15" opacity="0.9"/>
<polyline points="702.2,1383.0 702.2,1379.3 702.3,1375.6 702.4,1372.0 702.4,1368.3 702.2,1364.6 701.6,1360.9 700.7,1357.3 699.8,1353.6 699.0,1349.9 698.5,1346.2 698.6,1342.6 699.0,1338.9 699.4,1335.2 699.4,1331.5" fill="none" stroke="#a35d57" stroke-width="1.15" opacity="0.9"/>
<polyline points="703.8,1383.0 703.8,1379.8 703.7,1376.7 703.5,1373.5 703.5,1370.4 703.6,1367.2 704.1,1364.1 704.9,1360.9 705.7,1357.8 706.5,1354.6 707.0,1351.5 707.0,1348.3 706.6,1345.2 706.1,1342.0 705.6,1338.9" fill="none" stroke="#a35d57" stroke-width="1.15" opacity="0.9"/>
<polyline points="705.2,1383.0 705.1,1379.9 705.0,1376.9 705.1,1373.8 705.3,1370.8 705.5,1367.7 705.2,1364.7 704.5,1361.6 703.4,1358.6 702.3,1355.5 701.7,1352.5 701.8,1349.4 702.4,1346.4 703.0,1343.3 703.2,1340.3" fill="none" stroke="#a35d57" stroke-width="1.15" opacity="0.9"/>
<polyline points="706.8,1383.0 706.6,1379.6 706.7,1376.2 707.0,1372.8 707.5,1369.4 707.9,1366.0 708.0,1362.6 707.8,1359.2 707.4,1355.8 707.2,1352.4 707.6,1349.0 708.6,1345.6 710.1,1342.2 711.6,1338.8 712.5,1335.4" fill="none" stroke="#a35d57" stroke-width="1.15" opacity="0.9"/>
<polyline points="708.2,1383.0 708.3,1378.9 708.4,1374.8 708.5,1370.8 708.3,1366.7 707.8,1362.6 707.2,1358.5 706.8,1354.4 706.8,1350.4 707.2,1346.3 707.8,1342.2 708.0,1338.1 707.6,1334.0 706.4,1330.0 704.9,1325.9" fill="none" stroke="#a35d57" stroke-width="1.15" opacity="0.9"/>
<polyline points="709.8,1383.0 709.5,1379.1 709.4,1375.2 709.4,1371.3 709.6,1367.4 709.5,1363.5 708.8,1359.6 707.4,1355.7 705.8,1351.8 704.7,1347.9 704.5,1344.0 704.9,1340.1 705.3,1336.2 704.6,1332.3 702.5,1328.4" fill="none" stroke="#a35d57" stroke-width="1.15" opacity="0.9"/>
<polyline points="711.2,1383.0 711.2,1379.5 711.1,1376.0 711.1,1372.5 711.1,1369.0 711.2,1365.5 711.1,1362.0 710.7,1358.5 710.1,1355.0 709.4,1351.5 708.8,1348.0 708.5,1344.5 708.5,1341.0 708.7,1337.6 708.8,1334.1" fill="none" stroke="#a35d57" stroke-width="1.15" opacity="0.9"/>
<polyline points="712.8,1383.0 712.8,1379.8 713.0,1376.7 713.0,1373.5 712.7,1370.4 712.2,1367.2 711.5,1364.1 710.8,1360.9 710.2,1357.8 709.9,1354.6 709.9,1351.5 710.3,1348.3 710.7,1345.2 710.8,1342.0 710.5,1338.9" fill="none" stroke="#a35d57" stroke-width="1.15" opacity="0.9"/>
<polyline points="714.2,1383.0 714.2,1379.5 714.3,1376.0 714.4,1372.5 714.4,1369.0 714.3,1365.5 713.9,1362.0 713.5,1358.5 713.1,1355.0 712.9,1351.5 713.0,1348.0 713.3,1344.5 713.7,1341.0 713.8,1337.5 713.4,1334.0" fill="none" stroke="#a35d57" stroke-width="1.15" opacity="0.9"/>
<polyline points="715.8,1383.0 715.7,1378.9 715.9,1374.7 716.3,1370.6 716.7,1366.5 717.1,1362.3 717.2,1358.2 717.0,1354.0 716.7,1349.9 716.5,1345.8 716.7,1341.6 717.5,1337.5 718.9,1333.4 720.7,1329.2 722.4,1325.1" fill="none" stroke="#a35d57" stroke-width="1.15" opacity="0.9"/>
<polyline points="717.2,1383.0 717.2,1379.5 717.4,1376.1 717.8,1372.6 718.2,1369.2 718.4,1365.7 718.4,1362.2 718.1,1358.8 717.7,1355.3 717.4,1351.8 717.4,1348.4 718.0,1344.9 719.1,1341.5 720.7,1338.0 722.4,1334.5" fill="none" stroke="#a35d57" stroke-width="1.15" opacity="0.9"/>
<polyline points="718.8,1383.0 718.9,1379.7 718.8,1376.4 718.6,1373.1 718.3,1369.8 718.2,1366.5 718.4,1363.2 719.0,1359.9 719.6,1356.6 720.0,1353.3 719.8,1350.0 719.2,1346.7 718.2,1343.4 717.6,1340.1 717.6,1336.8" fill="none" stroke="#a35d57" stroke-width="1.15" opacity="0.9"/>
<polyline points="720.2,1383.0 720.2,1380.0 720.1,1377.0 720.1,1374.0 720.2,1371.0 720.6,1368.0 721.2,1365.0 721.7,1362.0 722.0,1359.0 722.0,1356.0 721.6,1352.9 721.2,1349.9 721.2,1346.9 721.9,1343.9 723.1,1340.9" fill="none" stroke="#a35d57" stroke-width="1.15" opacity="0.9"/>
<polyline points="721.8,1383.0 721.7,1379.1 721.8,1375.2 722.2,1371.3 723.1,1367.4 724.3,1363.6 725.6,1359.7 726.7,1355.8 727.4,1351.9 728.0,1348.0 729.0,1344.1 730.6,1340.2 733.3,1336.3 736.6,1332.5 740.0,1328.6" fill="none" stroke="#a35d57" stroke-width="1.15" opacity="0.9"/>
<polyline points="723.2,1383.0 723.2,1378.8 723.3,1374.7 723.7,1370.5 724.0,1366.4 723.9,1362.2 723.4,1358.1 722.7,1353.9 722.5,1349.7 723.1,1345.6 724.3,1341.4 725.6,1337.3 726.3,1333.1 725.7,1329.0 724.4,1324.8" fill="none" stroke="#a35d57" stroke-width="1.15" opacity="0.9"/>
<polyline points="724.8,1383.0 724.9,1379.5 725.2,1376.0 725.5,1372.5 725.7,1368.9 725.8,1365.4 725.9,1361.9 726.1,1358.4 726.5,1354.9 727.4,1351.4 728.7,1347.9 730.3,1344.4 732.1,1340.8 733.9,1337.3 735.4,1333.8" fill="none" stroke="#a35d57" stroke-width="1.15" opacity="0.9"/>
<polyline points="726.2,1383.0 726.4,1379.7 726.5,1376.5 726.6,1373.2 726.6,1369.9 726.5,1366.7 726.5,1363.4 726.5,1360.1 726.8,1356.9 727.4,1353.6 728.2,1350.3 729.2,1347.0 730.2,1343.8 731.1,1340.5 731.6,1337.2" fill="none" stroke="#a35d57" stroke-width="1.15" opacity="0.9"/>
<polyline points="727.8,1383.0 727.9,1379.8 728.0,1376.6 728.2,1373.4 728.3,1370.2 728.2,1367.0 728.1,1363.8 728.1,1360.6 728.2,1357.4 728.5,1354.2 729.2,1351.1 730.1,1347.9 731.2,1344.7 732.3,1341.5 733.2,1338.3" fill="none" stroke="#a35d57" stroke-width="1.15" opacity="0.9"/>
<polyline points="729.2,1383.0 729.5,1379.2 729.8,1375.4 730.3,1371.6 730.8,1367.8 731.5,1364.1 732.5,1360.3 733.9,1356.5 735.8,1352.7 738.1,1348.9 740.6,1345.1 743.2,1341.3 745.5,1337.5 747.7,1333.7 749.7,1329.9" fill="none" stroke="#a35d57" stroke-width="1.15" opacity="0.9"/>
<polyline points="730.8,1383.0 730.8,1379.8 731.1,1376.7 731.8,1373.5 732.5,1370.4 733.0,1367.2 733.2,1364.1 733.3,1360.9 733.6,1357.7 734.6,1354.6 736.3,1351.4 738.8,1348.3 741.5,1345.1 743.9,1341.9 745.6,1338.8" fill="none" stroke="#a35d57" stroke-width="1.15" opacity="0.9"/>
<polyline points="732.2,1383.0 732.4,1379.9 732.8,1376.8 733.2,1373.7 733.6,1370.6 734.1,1367.4 734.6,1364.3 735.5,1361.2 736.8,1358.1 738.6,1355.0 740.7,1351.9 743.1,1348.8 745.3,1345.7 747.3,1342.6 748.9,1339.5" fill="none" stroke="#a35d57" stroke-width="1.15" opacity="0.9"/>
<polyline points="695.0,1347.9 693.2,1347.7 691.4,1346.7 689.5,1345.1 687.7,1343.2 685.9,1341.5 684.1,1340.3 682.3,1339.9 680.5,1340.2 678.6,1340.9 676.8,1341.5" fill="none" stroke="#a35d57" stroke-width="1.15"/>
<polyline points="704.0,1343.8 702.1,1342.0 700.2,1340.6 698.2,1340.0 696.3,1340.0 694.4,1340.6 692.5,1341.3 690.6,1341.6 688.7,1341.3 686.7,1340.1 684.8,1338.4" fill="none" stroke="#a35d57" stroke-width="1.15"/>
<polyline points="713.0,1351.6 715.2,1352.1 717.4,1352.2 719.7,1351.5 721.9,1350.0 724.1,1348.2 726.3,1346.3 728.6,1345.0 730.8,1344.3 733.0,1344.4 735.2,1345.0" fill="none" stroke="#a35d57" stroke-width="1.15"/>
<polyline points="722.0,1341.4 724.4,1341.7 726.7,1342.4 729.1,1343.0 731.4,1343.1 733.8,1342.5 736.1,1341.1 738.5,1339.3 740.9,1337.4 743.2,1336.0 745.6,1335.2" fill="none" stroke="#a35d57" stroke-width="1.15"/>
<polyline points="688.8,1383.0 688.8,1386.5 688.5,1389.9 687.8,1393.4 686.7,1396.9 685.4,1400.4 684.2,1403.8 683.2,1407.3 682.4,1410.8 681.3,1414.2 679.7,1417.7 677.2,1421.2 673.8,1424.7 669.9,1428.1 666.1,1431.6" fill="none" stroke="#a35d57" stroke-width="1.15" opacity="0.9"/>
<polyline points="690.2,1383.0 690.3,1386.4 690.1,1389.8 689.5,1393.3 688.8,1396.7 688.5,1400.1 688.6,1403.5 688.7,1407.0 688.1,1410.4 686.5,1413.8 684.3,1417.2 682.3,1420.7 681.3,1424.1 681.3,1427.5 681.6,1430.9" fill="none" stroke="#a35d57" stroke-width="1.15" opacity="0.9"/>
<polyline points="691.8,1383.0 691.6,1387.0 691.6,1391.1 691.6,1395.1 691.7,1399.1 691.5,1403.2 691.0,1407.2 690.0,1411.3 688.8,1415.3 687.5,1419.3 686.4,1423.4 685.6,1427.4 685.3,1431.4 685.3,1435.5 685.4,1439.5" fill="none" stroke="#a35d57" stroke-width="1.15" opacity="0.9"/>
<polyline points="693.2,1383.0 693.2,1386.5 693.1,1389.9 692.9,1393.4 692.4,1396.8 691.6,1400.3 690.7,1403.7 689.6,1407.2 688.6,1410.7 687.6,1414.1 686.7,1417.6 685.8,1421.0 684.8,1424.5 683.3,1427.9 681.4,1431.4" fill="none" stroke="#a35d57" stroke-width="1.15" opacity="0.9"/>
<polyline points="694.8,1383.0 694.7,1386.9 694.6,1390.8 694.3,1394.7 693.5,1398.6 692.3,1402.5 691.1,1406.3 690.2,1410.2 689.6,1414.1 688.9,1418.0 687.6,1421.9 685.4,1425.8 682.5,1429.7 679.4,1433.6 677.1,1437.5" fill="none" stroke="#a35d57" stroke-width="1.15" opacity="0.9"/>
<polyline points="696.2,1383.0 696.3,1387.2 696.2,1391.5 695.9,1395.7 695.7,1399.9 695.6,1404.1 695.6,1408.4 695.8,1412.6 696.1,1416.8 696.3,1421.1 696.2,1425.3 695.8,1429.5 695.0,1433.7 694.1,1438.0 693.2,1442.2" fill="none" stroke="#a35d57" stroke-width="1.15" opacity="0.9"/>
<polyline points="697.8,1383.0 697.5,1386.3 697.2,1389.5 697.1,1392.8 697.0,1396.1 696.6,1399.3 695.6,1402.6 693.9,1405.8 691.8,1409.1 690.1,1412.4 689.1,1415.6 688.7,1418.9 688.3,1422.2 686.9,1425.4 684.0,1428.7" fill="none" stroke="#a35d57" stroke-width="1.15" opacity="0.9"/>
<polyline points="699.2,1383.0 699.2,1386.8 699.1,1390.7 699.0,1394.5 698.8,1398.4 698.4,1402.2 697.6,1406.0 696.7,1409.9 695.7,1413.7 695.0,1417.6 694.6,1421.4 694.3,1425.2 693.7,1429.1 692.6,1432.9 690.9,1436.8" fill="none" stroke="#a35d57" stroke-width="1.15" opacity="0.9"/>
<polyline points="700.8,1383.0 700.6,1387.0 700.6,1391.0 700.8,1395.0 701.1,1399.0 701.3,1403.0 701.5,1407.0 701.3,1411.0 701.0,1415.0 700.4,1419.1 699.8,1423.1 699.5,1427.1 699.5,1431.1 700.0,1435.1 700.9,1439.1" fill="none" stroke="#a35d57" stroke-width="1.15" opacity="0.9"/>
<polyline points="702.2,1383.0 702.1,1386.4 702.2,1389.9 702.5,1393.3 702.8,1396.7 702.9,1400.1 702.6,1403.6 701.9,1407.0 701.0,1410.4 700.4,1413.8 700.2,1417.3 700.8,1420.7 701.8,1424.1 703.0,1427.6 703.6,1431.0" fill="none" stroke="#a35d57" stroke-width="1.15" opacity="0.9"/>
<polyline points="703.8,1383.0 703.6,1387.2 703.5,1391.4 703.4,1395.7 703.3,1399.9 703.2,1404.1 703.0,1408.3 702.6,1412.5 701.9,1416.7 700.9,1421.0 699.8,1425.2 698.7,1429.4 697.7,1433.6 696.9,1437.8 696.5,1442.0" fill="none" stroke="#a35d57" stroke-width="1.15" opacity="0.9"/>
<polyline points="705.2,1383.0 705.2,1387.2 705.1,1391.3 705.0,1395.5 704.7,1399.7 704.1,1403.8 703.2,1408.0 702.1,1412.1 701.3,1416.3 700.8,1420.5 700.4,1424.6 699.8,1428.8 698.7,1433.0 696.8,1437.1 694.5,1441.3" fill="none" stroke="#a35d57" stroke-width="1.15" opacity="0.9"/>
<polyline points="706.8,1383.0 706.8,1386.8 706.8,1390.7 706.8,1394.5 706.7,1398.4 706.9,1402.2 707.3,1406.1 708.0,1409.9 708.9,1413.8 710.0,1417.6 711.0,1421.5 711.7,1425.3 712.0,1429.1 712.0,1433.0 711.8,1436.8" fill="none" stroke="#a35d57" stroke-width="1.15" opacity="0.9"/>
<polyline points="708.2,1383.0 708.1,1387.2 707.9,1391.5 707.9,1395.7 707.8,1400.0 707.5,1404.2 706.6,1408.5 705.2,1412.7 703.9,1417.0 703.0,1421.2 702.7,1425.5 702.7,1429.7 702.1,1434.0 700.4,1438.2 697.7,1442.5" fill="none" stroke="#a35d57" stroke-width="1.15" opacity="0.9"/>
<polyline points="709.8,1383.0 709.7,1387.1 709.7,1391.2 709.8,1395.4 710.0,1399.5 710.0,1403.6 709.8,1407.7 709.4,1411.8 708.8,1416.0 708.3,1420.1 707.9,1424.2 707.9,1428.3 708.1,1432.4 708.6,1436.6 709.0,1440.7" fill="none" stroke="#a35d57" stroke-width="1.15" opacity="0.9"/>
<polyline points="711.2,1383.0 711.1,1386.3 711.0,1389.6 710.9,1392.9 711.0,1396.2 711.1,1399.5 711.2,1402.9 711.1,1406.2 710.6,1409.5 709.9,1412.8 709.0,1416.1 708.2,1419.4 707.9,1422.7 708.0,1426.0 708.4,1429.3" fill="none" stroke="#a35d57" stroke-width="1.15" opacity="0.9"/>
<polyline points="712.8,1383.0 712.7,1387.2 712.5,1391.3 712.2,1395.5 711.9,1399.7 711.8,1403.9 712.0,1408.0 712.2,1412.2 712.1,1416.4 711.5,1420.5 710.4,1424.7 709.0,1428.9 707.8,1433.0 707.1,1437.2 707.1,1441.4" fill="none" stroke="#a35d57" stroke-width="1.15" opacity="0.9"/>
<polyline points="714.2,1383.0 714.3,1386.5 714.6,1390.1 715.1,1393.6 715.5,1397.2 715.7,1400.7 715.8,1404.2 716.0,1407.8 716.6,1411.3 717.8,1414.9 719.5,1418.4 721.4,1421.9 723.1,1425.5 724.3,1429.0 724.8,1432.6" fill="none" stroke="#a35d57" stroke-width="1.15" opacity="0.9"/>
<polyline points="715.8,1383.0 715.8,1386.0 715.7,1389.0 715.7,1392.1 715.7,1395.1 715.9,1398.1 716.3,1401.1 716.8,1404.2 717.5,1407.2 718.2,1410.2 718.9,1413.2 719.3,1416.3 719.6,1419.3 719.7,1422.3 719.7,1425.3" fill="none" stroke="#a35d57" stroke-width="1.15" opacity="0.9"/>
<polyline points="717.2,1383.0 717.2,1386.2 717.2,1389.4 717.3,1392.7 717.8,1395.9 718.7,1399.1 719.8,1402.3 720.9,1405.6 721.5,1408.8 721.8,1412.0 721.8,1415.2 722.2,1418.4 723.3,1421.7 725.3,1424.9 728.1,1428.1" fill="none" stroke="#a35d57" stroke-width="1.15" opacity="0.9"/>
<polyline points="718.8,1383.0 718.6,1386.7 718.5,1390.3 718.5,1394.0 718.6,1397.7 719.1,1401.3 719.7,1405.0 720.4,1408.7 720.9,1412.3 721.2,1416.0 721.1,1419.7 720.7,1423.3 720.1,1427.0 719.7,1430.7 719.7,1434.3" fill="none" stroke="#a35d57" stroke-width="1.15" opacity="0.9"/>
<polyline points="720.2,1383.0 720.4,1386.3 720.4,1389.6 720.4,1393.0 720.4,1396.3 720.6,1399.6 721.4,1402.9 722.6,1406.2 723.9,1409.6 725.1,1412.9 725.7,1416.2 725.7,1419.5 725.6,1422.8 725.7,1426.2 726.6,1429.5" fill="none" stroke="#a35d57" stroke-width="1.15" opacity="0.9"/>
<polyline points="721.8,1383.0 721.8,1387.0 722.1,1391.0 722.5,1394.9 722.9,1398.9 723.0,1402.9 723.1,1406.9 723.3,1410.8 724.0,1414.8 725.3,1418.8 727.0,1422.8 728.8,1426.7 730.1,1430.7 730.9,1434.7 731.2,1438.7" fill="none" stroke="#a35d57" stroke-width="1.15" opacity="0.9"/>
<polyline points="723.2,1383.0 723.2,1386.7 723.3,1390.3 723.7,1394.0 724.4,1397.6 725.1,1401.3 725.6,1405.0 725.9,1408.6 726.0,1412.3 726.3,1415.9 727.1,1419.6 728.5,1423.2 730.4,1426.9 732.6,1430.6 734.5,1434.2" fill="none" stroke="#a35d57" stroke-width="1.15" opacity="0.9"/>
<polyline points="724.8,1383.0 724.7,1387.2 724.9,1391.4 725.5,1395.6 726.2,1399.8 726.7,1404.1 726.7,1408.3 726.5,1412.5 726.8,1416.7 728.1,1420.9 730.3,1425.1 732.6,1429.3 734.1,1433.5 734.5,1437.7 734.2,1441.9" fill="none" stroke="#a35d57" stroke-width="1.15" opacity="0.9"/>
<polyline points="726.2,1383.0 726.3,1386.7 726.6,1390.4 727.0,1394.2 727.5,1397.9 727.7,1401.6 727.8,1405.3 727.8,1409.0 727.7,1412.8 728.0,1416.5 728.6,1420.2 729.9,1423.9 731.6,1427.6 733.7,1431.4 735.6,1435.1" fill="none" stroke="#a35d57" stroke-width="1.15" opacity="0.9"/>
<polyline points="727.8,1383.0 727.9,1386.6 728.1,1390.1 728.3,1393.7 728.5,1397.3 728.6,1400.8 728.6,1404.4 728.7,1408.0 729.0,1411.5 729.5,1415.1 730.4,1418.7 731.5,1422.3 732.8,1425.8 734.1,1429.4 735.2,1433.0" fill="none" stroke="#a35d57" stroke-width="1.15" opacity="0.9"/>
<polyline points="729.2,1383.0 729.3,1387.0 729.7,1391.0 730.3,1395.0 730.9,1399.0 731.4,1403.0 732.0,1407.0 732.9,1411.1 734.3,1415.1 736.2,1419.1 738.5,1423.1 740.8,1427.1 742.7,1431.1 744.3,1435.1 745.8,1439.1" fill="none" stroke="#a35d57" stroke-width="1.15" opacity="0.9"/>
<polyline points="730.8,1383.0 730.8,1386.2 731.3,1389.4 732.0,1392.6 732.9,1395.7 733.8,1398.9 734.5,1402.1 735.1,1405.3 735.7,1408.5 736.8,1411.7 738.4,1414.8 740.8,1418.0 743.9,1421.2 747.4,1424.4 750.9,1427.6" fill="none" stroke="#a35d57" stroke-width="1.15" opacity="0.9"/>
<polyline points="732.2,1383.0 732.3,1386.5 732.4,1390.0 733.0,1393.5 734.2,1397.0 736.0,1400.6 737.8,1404.1 739.2,1407.6 740.2,1411.1 741.2,1414.6 743.0,1418.1 746.1,1421.6 750.3,1425.1 755.0,1428.7 759.1,1432.2" fill="none" stroke="#a35d57" stroke-width="1.15" opacity="0.9"/>
<polyline points="695.0,1409.1 692.8,1408.4 690.6,1407.8 688.4,1407.6 686.2,1408.2 683.9,1409.5 681.7,1411.3 679.5,1413.2 677.3,1414.7 675.1,1415.5 672.9,1415.5" fill="none" stroke="#a35d57" stroke-width="1.15"/>
<polyline points="704.0,1413.1 701.9,1413.9 699.9,1413.8 697.8,1413.3 695.8,1412.6 693.7,1412.2 691.7,1412.5 689.6,1413.6 687.6,1415.2 685.5,1417.1 683.5,1418.8" fill="none" stroke="#a35d57" stroke-width="1.15"/>
<polyline points="713.0,1418.3 715.2,1420.0 717.5,1421.3 719.7,1421.9 722.0,1421.7 724.2,1421.1 726.5,1420.4 728.7,1420.2 730.9,1420.6 733.2,1421.9 735.4,1423.6" fill="none" stroke="#a35d57" stroke-width="1.15"/>
<polyline points="722.0,1413.2 724.1,1415.0 726.1,1416.3 728.2,1416.8 730.3,1416.6 732.3,1416.0 734.4,1415.3 736.5,1415.1 738.5,1415.6 740.6,1416.8 742.7,1418.5" fill="none" stroke="#a35d57" stroke-width="1.15"/>
<polyline points="873.8,1357.5 873.8,1354.2 873.4,1350.9 872.7,1347.6 871.6,1344.3 870.0,1340.9 867.8,1337.6 865.2,1334.3 862.1,1331.0 858.6,1327.7 854.9,1324.4" fill="none" stroke="#b8d888" stroke-width="1.6"/>
<polyline points="877.5,1357.5 877.4,1353.9 877.3,1350.3 877.1,1346.7 876.8,1343.1 876.3,1339.6 875.4,1336.0 874.2,1332.4 872.7,1328.8 870.9,1325.2 868.8,1321.6" fill="none" stroke="#b8d888" stroke-width="1.6"/>
<polyline points="881.1,1357.5 881.0,1354.4 880.6,1351.4 879.9,1348.3 878.8,1345.2 877.2,1342.2 875.1,1339.1 872.5,1336.0 869.4,1333.0 865.8,1329.9 862.0,1326.8" fill="none" stroke="#b8d888" stroke-width="1.6"/>
<polyline points="884.7,1357.5 884.8,1354.4 884.9,1351.4 884.9,1348.3 884.6,1345.2 884.2,1342.1 883.6,1339.1 882.8,1336.0 881.9,1332.9 881.0,1329.9 880.2,1326.8" fill="none" stroke="#b8d888" stroke-width="1.6"/>
<polyline points="888.4,1357.5 888.2,1353.8 888.1,1350.1 888.0,1346.4 887.9,1342.7 887.8,1338.9 887.5,1335.2 887.1,1331.5 886.4,1327.8 885.4,1324.1 884.1,1320.4" fill="none" stroke="#b8d888" stroke-width="1.6"/>
<polyline points="892.0,1357.5 892.0,1354.6 892.0,1351.6 892.0,1348.7 892.0,1345.7 891.9,1342.8 891.7,1339.8 891.2,1336.9 890.4,1333.9 889.4,1331.0 888.2,1328.0" fill="none" stroke="#b8d888" stroke-width="1.6"/>
<polyline points="895.6,1357.5 895.8,1354.0 896.2,1350.5 896.6,1347.0 897.0,1343.5 897.5,1340.0 897.8,1336.5 898.2,1333.0 898.6,1329.5 899.1,1326.0 899.8,1322.5" fill="none" stroke="#b8d888" stroke-width="1.6"/>
<polyline points="899.3,1357.5 899.3,1354.0 899.2,1350.5 899.1,1347.0 899.0,1343.5 898.9,1340.1 899.0,1336.6 899.2,1333.1 899.7,1329.6 900.4,1326.1 901.3,1322.6" fill="none" stroke="#b8d888" stroke-width="1.6"/>
<polyline points="902.9,1357.5 902.8,1353.8 902.8,1350.0 903.0,1346.3 903.4,1342.5 904.1,1338.8 905.1,1335.1 906.2,1331.3 907.5,1327.6 908.8,1323.9 910.1,1320.1" fill="none" stroke="#b8d888" stroke-width="1.6"/>
<polyline points="906.5,1357.5 906.7,1354.6 907.4,1351.7 908.6,1348.8 910.3,1346.0 912.6,1343.1 915.1,1340.2 918.0,1337.3 921.1,1334.4 924.4,1331.5 928.0,1328.7" fill="none" stroke="#b8d888" stroke-width="1.6"/>
<polyline points="910.2,1357.5 910.3,1353.8 910.6,1350.2 911.1,1346.5 911.8,1342.8 912.8,1339.2 914.3,1335.5 916.2,1331.9 918.6,1328.2 921.4,1324.5 924.6,1320.9" fill="none" stroke="#b8d888" stroke-width="1.6"/>
<polyline points="873.8,1410.0 873.6,1413.4 873.0,1416.7 872.1,1420.1 870.8,1423.4 869.1,1426.8 866.7,1430.1 863.8,1433.5 860.2,1436.8 856.0,1440.2 851.2,1443.5" fill="none" stroke="#b8d888" stroke-width="1.6"/>
<polyline points="877.5,1410.0 877.2,1412.9 876.4,1415.9 875.3,1418.8 873.8,1421.7 872.0,1424.6 870.1,1427.6 867.9,1430.5 865.5,1433.4 862.7,1436.4 859.6,1439.3" fill="none" stroke="#b8d888" stroke-width="1.6"/>
<polyline points="881.1,1410.0 881.1,1412.9 880.8,1415.8 880.0,1418.7 878.9,1421.6 877.3,1424.5 875.2,1427.5 872.8,1430.4 870.0,1433.3 867.1,1436.2 864.0,1439.1" fill="none" stroke="#b8d888" stroke-width="1.6"/>
<polyline points="884.7,1410.0 884.7,1413.0 884.3,1416.0 883.4,1419.0 882.1,1422.0 880.5,1425.0 878.6,1428.0 876.5,1431.0 874.3,1434.0 872.0,1437.0 869.6,1440.0" fill="none" stroke="#b8d888" stroke-width="1.6"/>
<polyline points="888.4,1410.0 888.4,1413.6 888.3,1417.1 887.8,1420.7 887.1,1424.2 886.2,1427.8 885.2,1431.4 884.1,1434.9 883.0,1438.5 882.0,1442.0 881.1,1445.6" fill="none" stroke="#b8d888" stroke-width="1.6"/>
<polyline points="892.0,1410.0 892.1,1413.0 892.1,1416.0 891.9,1418.9 891.7,1421.9 891.5,1424.9 891.3,1427.9 891.3,1430.8 891.4,1433.8 891.8,1436.8 892.4,1439.8" fill="none" stroke="#b8d888" stroke-width="1.6"/>
<polyline points="895.6,1410.0 895.7,1413.1 895.7,1416.1 895.8,1419.2 895.7,1422.2 895.5,1425.3 895.0,1428.3 894.3,1431.4 893.4,1434.4 892.4,1437.5 891.3,1440.5" fill="none" stroke="#b8d888" stroke-width="1.6"/>
<polyline points="899.3,1410.0 899.5,1413.4 900.0,1416.7 900.7,1420.1 901.4,1423.4 902.3,1426.8 903.3,1430.1 904.5,1433.5 906.0,1436.8 907.9,1440.2 910.2,1443.5" fill="none" stroke="#b8d888" stroke-width="1.6"/>
<polyline points="902.9,1410.0 903.2,1413.7 903.7,1417.5 904.4,1421.2 905.3,1424.9 906.3,1428.7 907.3,1432.4 908.5,1436.1 909.9,1439.9 911.5,1443.6 913.6,1447.3" fill="none" stroke="#b8d888" stroke-width="1.6"/>
<polyline points="906.5,1410.0 906.7,1413.2 907.2,1416.5 908.1,1419.7 909.4,1422.9 911.3,1426.2 913.7,1429.4 916.8,1432.6 920.4,1435.9 924.6,1439.1 929.3,1442.3" fill="none" stroke="#b8d888" stroke-width="1.6"/>
<polyline points="910.2,1410.0 910.4,1413.2 911.0,1416.4 912.1,1419.6 913.7,1422.8 916.0,1426.0 918.9,1429.2 922.6,1432.4 926.9,1435.5 931.8,1438.7 937.3,1441.9" fill="none" stroke="#b8d888" stroke-width="1.6"/>
<ellipse cx="791" cy="1375" rx="5.2" ry="4.6" fill="#f2cdaa" stroke="#e7b890" stroke-width="1.5"/>
<ellipse cx="791" cy="1390" rx="5.2" ry="4.6" fill="#f2cdaa" stroke="#e7b890" stroke-width="1.5"/>
<ellipse cx="800" cy="1375" rx="5.2" ry="4.6" fill="#f2cdaa" stroke="#e7b890" stroke-width="1.5"/>
<ellipse cx="800" cy="1390" rx="5.2" ry="4.6" fill="#f2cdaa" stroke="#e7b890" stroke-width="1.5"/>
<ellipse cx="810" cy="1375" rx="5.2" ry="4.6" fill="#f2cdaa" stroke="#e7b890" stroke-width="1.5"/>
<ellipse cx="810" cy="1390" rx="5.2" ry="4.6" fill="#f2cdaa" stroke="#e7b890" stroke-width="1.5"/>
<line x1="784" y1="1382.6" x2="820" y2="1382.6" stroke="#a8b860" stroke-width="2.2" stroke-dasharray="2.2,1.3"/>
<line x1="588" y1="1372.5" x2="588" y2="1391.5" stroke="#5f8a5c" stroke-width="3"/>
<ellipse cx="588" cy="1372.5" rx="2.6" ry="1.6" fill="#5f8a5c"/><ellipse cx="588" cy="1391.5" rx="2.6" ry="1.6" fill="#5f8a5c"/>
<line x1="603" y1="1372.5" x2="603" y2="1391.5" stroke="#5f8a5c" stroke-width="3"/>
<ellipse cx="603" cy="1372.5" rx="2.6" ry="1.6" fill="#5f8a5c"/><ellipse cx="603" cy="1391.5" rx="2.6" ry="1.6" fill="#5f8a5c"/>
<line x1="618" y1="1372.5" x2="618" y2="1391.5" stroke="#5f8a5c" stroke-width="3"/>
<ellipse cx="618" cy="1372.5" rx="2.6" ry="1.6" fill="#5f8a5c"/><ellipse cx="618" cy="1391.5" rx="2.6" ry="1.6" fill="#5f8a5c"/>
<line x1="632.6" y1="1372.5" x2="632.6" y2="1391.5" stroke="#5f8a5c" stroke-width="3"/>
<ellipse cx="632.6" cy="1372.5" rx="2.6" ry="1.6" fill="#5f8a5c"/><ellipse cx="632.6" cy="1391.5" rx="2.6" ry="1.6" fill="#5f8a5c"/>
<rect x="687" y="1374.5" width="47" height="17" rx="6" fill="#b4c46a"/>
<polyline points="687.0,1379 689.4,1387 691.7,1379 694.0,1387 696.4,1379 698.8,1387 701.1,1379 703.5,1387 705.8,1379 708.1,1387 710.5,1379 712.9,1387 715.2,1379 717.5,1387 719.9,1379 722.2,1387 724.6,1379 727.0,1387 729.3,1379 731.6,1387 734.0,1379" fill="none" stroke="#dcec98" stroke-width="1.6"/>
<circle cx="689.0" cy="1375.5" r="1.3" fill="#7a5a30"/><circle cx="689.0" cy="1390.5" r="1.3" fill="#7a5a30"/>
<circle cx="693.7" cy="1375.5" r="1.3" fill="#7a5a30"/><circle cx="693.7" cy="1390.5" r="1.3" fill="#7a5a30"/>
<circle cx="698.4" cy="1375.5" r="1.3" fill="#7a5a30"/><circle cx="698.4" cy="1390.5" r="1.3" fill="#7a5a30"/>
<circle cx="703.1" cy="1375.5" r="1.3" fill="#7a5a30"/><circle cx="703.1" cy="1390.5" r="1.3" fill="#7a5a30"/>
<circle cx="707.8" cy="1375.5" r="1.3" fill="#7a5a30"/><circle cx="707.8" cy="1390.5" r="1.3" fill="#7a5a30"/>
<circle cx="712.5" cy="1375.5" r="1.3" fill="#7a5a30"/><circle cx="712.5" cy="1390.5" r="1.3" fill="#7a5a30"/>
<circle cx="717.2" cy="1375.5" r="1.3" fill="#7a5a30"/><circle cx="717.2" cy="1390.5" r="1.3" fill="#7a5a30"/>
<circle cx="721.9" cy="1375.5" r="1.3" fill="#7a5a30"/><circle cx="721.9" cy="1390.5" r="1.3" fill="#7a5a30"/>
<circle cx="726.6" cy="1375.5" r="1.3" fill="#7a5a30"/><circle cx="726.6" cy="1390.5" r="1.3" fill="#7a5a30"/>
<circle cx="731.3" cy="1375.5" r="1.3" fill="#7a5a30"/><circle cx="731.3" cy="1390.5" r="1.3" fill="#7a5a30"/>
<rect x="871" y="1372" width="42" height="24" fill="#aeb0d8"/>
<path d="M 873.0 1372 q 2.5 6 0 12 q -2.5 6 0 12" fill="none" stroke="#7476b4" stroke-width="1.8"/>
<line x1="874.5" y1="1374" x2="874.5" y2="1394" stroke="#d0d0ea" stroke-width="0.8"/>
<path d="M 878.2 1372 q 2.5 6 0 12 q -2.5 6 0 12" fill="none" stroke="#7476b4" stroke-width="1.8"/>
<line x1="879.7" y1="1374" x2="879.7" y2="1394" stroke="#d0d0ea" stroke-width="0.8"/>
<path d="M 883.4 1372 q 2.5 6 0 12 q -2.5 6 0 12" fill="none" stroke="#7476b4" stroke-width="1.8"/>
<line x1="884.9" y1="1374" x2="884.9" y2="1394" stroke="#d0d0ea" stroke-width="0.8"/>
<path d="M 888.6 1372 q 2.5 6 0 12 q -2.5 6 0 12" fill="none" stroke="#7476b4" stroke-width="1.8"/>
<line x1="890.1" y1="1374" x2="890.1" y2="1394" stroke="#d0d0ea" stroke-width="0.8"/>
<path d="M 893.8 1372 q 2.5 6 0 12 q -2.5 6 0 12" fill="none" stroke="#7476b4" stroke-width="1.8"/>
<line x1="895.3" y1="1374" x2="895.3" y2="1394" stroke="#d0d0ea" stroke-width="0.8"/>
<path d="M 899.0 1372 q 2.5 6 0 12 q -2.5 6 0 12" fill="none" stroke="#7476b4" stroke-width="1.8"/>
<line x1="900.5" y1="1374" x2="900.5" y2="1394" stroke="#d0d0ea" stroke-width="0.8"/>
<path d="M 904.2 1372 q 2.5 6 0 12 q -2.5 6 0 12" fill="none" stroke="#7476b4" stroke-width="1.8"/>
<line x1="905.7" y1="1374" x2="905.7" y2="1394" stroke="#d0d0ea" stroke-width="0.8"/>
<path d="M 909.4 1372 q 2.5 6 0 12 q -2.5 6 0 12" fill="none" stroke="#7476b4" stroke-width="1.8"/>
<line x1="910.9" y1="1374" x2="910.9" y2="1394" stroke="#d0d0ea" stroke-width="0.8"/>
<rect x="869.5" y="1357.5" width="44" height="14.5" rx="1.5" fill="#e6956f"/>
<rect x="869.5" y="1396" width="43.5" height="14.5" rx="1.5" fill="#e6956f"/>
<line x1="873.0" y1="1359" x2="873.0" y2="1376" stroke="#b5707a" stroke-width="1.2"/>
<line x1="873.0" y1="1393" x2="873.0" y2="1409" stroke="#b5707a" stroke-width="1.2"/>
<line x1="878.2" y1="1359" x2="878.2" y2="1376" stroke="#b5707a" stroke-width="1.2"/>
<line x1="878.2" y1="1393" x2="878.2" y2="1409" stroke="#b5707a" stroke-width="1.2"/>
<line x1="883.4" y1="1359" x2="883.4" y2="1376" stroke="#b5707a" stroke-width="1.2"/>
<line x1="883.4" y1="1393" x2="883.4" y2="1409" stroke="#b5707a" stroke-width="1.2"/>
<line x1="888.6" y1="1359" x2="888.6" y2="1376" stroke="#b5707a" stroke-width="1.2"/>
<line x1="888.6" y1="1393" x2="888.6" y2="1409" stroke="#b5707a" stroke-width="1.2"/>
<line x1="893.8" y1="1359" x2="893.8" y2="1376" stroke="#b5707a" stroke-width="1.2"/>
<line x1="893.8" y1="1393" x2="893.8" y2="1409" stroke="#b5707a" stroke-width="1.2"/>
<line x1="899.0" y1="1359" x2="899.0" y2="1376" stroke="#b5707a" stroke-width="1.2"/>
<line x1="899.0" y1="1393" x2="899.0" y2="1409" stroke="#b5707a" stroke-width="1.2"/>
<line x1="904.2" y1="1359" x2="904.2" y2="1376" stroke="#b5707a" stroke-width="1.2"/>
<line x1="904.2" y1="1393" x2="904.2" y2="1409" stroke="#b5707a" stroke-width="1.2"/>
<line x1="909.4" y1="1359" x2="909.4" y2="1376" stroke="#b5707a" stroke-width="1.2"/>
<line x1="909.4" y1="1393" x2="909.4" y2="1409" stroke="#b5707a" stroke-width="1.2"/>
<text x="523.5" y="1370.5" font-size="19.5" fill="#e0182a" textLength="14.5" lengthAdjust="spacingAndGlyphs">A</text>
<text x="526" y="1400" font-size="19.5" fill="#e0182a" textLength="13" lengthAdjust="spacingAndGlyphs">B</text>
<text x="582" y="1345" font-size="10.5" fill="#555" font-weight="bold" textLength="51" lengthAdjust="spacingAndGlyphs">Giunzioni</text>
<text x="581.5" y="1357.5" font-size="10.5" fill="#555" font-weight="bold" textLength="55" lengthAdjust="spacingAndGlyphs">comunicanti</text>
<text x="668" y="1305" font-size="10.5" fill="#555" font-weight="bold" textLength="80" lengthAdjust="spacingAndGlyphs">Giunzioni aderenti</text>
<text x="864" y="1306" font-size="10.5" fill="#555" font-weight="bold" textLength="55" lengthAdjust="spacingAndGlyphs">Desmosoma</text>
<text x="781" y="1350" font-size="10.5" fill="#555" font-weight="bold" textLength="45" lengthAdjust="spacingAndGlyphs">Giunzioni</text>
<text x="780" y="1363" font-size="10.5" fill="#555" font-weight="bold" textLength="46" lengthAdjust="spacingAndGlyphs">occludenti</text>
<text x="581.5" y="1450.5" font-size="10.5" fill="#5a5a5a" textLength="48.5" lengthAdjust="spacingAndGlyphs">Connessoni</text>
<text x="740" y="1459" font-size="10.5" fill="#5a5a5a" textLength="40" lengthAdjust="spacingAndGlyphs">Molecole</text>
<text x="739.5" y="1473.5" font-size="10.5" fill="#5a5a5a" textLength="45" lengthAdjust="spacingAndGlyphs">di caderina</text>
<text x="791" y="1453.5" font-size="10.5" fill="#5a5a5a" textLength="42" lengthAdjust="spacingAndGlyphs">Occludine</text>
<text x="791" y="1468" font-size="10.5" fill="#5a5a5a" textLength="42" lengthAdjust="spacingAndGlyphs">e claudine</text>
<text x="750" y="1328" font-size="10.5" fill="#5a5a5a" textLength="79" lengthAdjust="spacingAndGlyphs">Filamenti di actina</text>
<text x="935" y="1333" font-size="10.5" fill="#5a5a5a" textLength="46" lengthAdjust="spacingAndGlyphs">Filamenti di</text>
<text x="935" y="1346.5" font-size="10.5" fill="#5a5a5a" textLength="37.5" lengthAdjust="spacingAndGlyphs">cheratina</text>
<text x="986" y="1377" font-size="10.5" fill="#5a5a5a" textLength="45" lengthAdjust="spacingAndGlyphs">Membrane</text>
<text x="986" y="1391" font-size="10.5" fill="#5a5a5a" textLength="48.5" lengthAdjust="spacingAndGlyphs">plasmatiche</text>
<text x="946" y="1444.5" font-size="10.5" fill="#5a5a5a" textLength="40" lengthAdjust="spacingAndGlyphs">Molecole</text>
<text x="946" y="1458.5" font-size="10.5" fill="#5a5a5a" textLength="45" lengthAdjust="spacingAndGlyphs">di caderina</text>
<path d="M 603 1392 L 606.5 1420 L 618 1392 M 606.5 1420 L 606.5 1438" fill="none" stroke="#707070" stroke-width="0.9"/>
<path d="M 725 1334 L 734 1322 L 749 1322 M 740 1337 L 738 1330" fill="none" stroke="#707070" stroke-width="0.9"/>
<path d="M 722 1393 L 735 1455 L 739 1455" fill="none" stroke="#707070" stroke-width="0.9"/>
<path d="M 811.6 1385 L 811.6 1442" fill="none" stroke="#707070" stroke-width="0.9"/>
<path d="M 910.7 1322.8 L 933.6 1322.8 M 922 1323.4 L 914 1342" fill="none" stroke="#707070" stroke-width="0.9"/>
<path d="M 913.4 1387.3 L 937 1435 L 943.7 1435" fill="none" stroke="#707070" stroke-width="0.9"/>
<path d="M 949.7 1369 L 984 1369 M 970.6 1369.8 L 953 1402.7" fill="none" stroke="#707070" stroke-width="0.9"/>
</svg>
</body></html>
